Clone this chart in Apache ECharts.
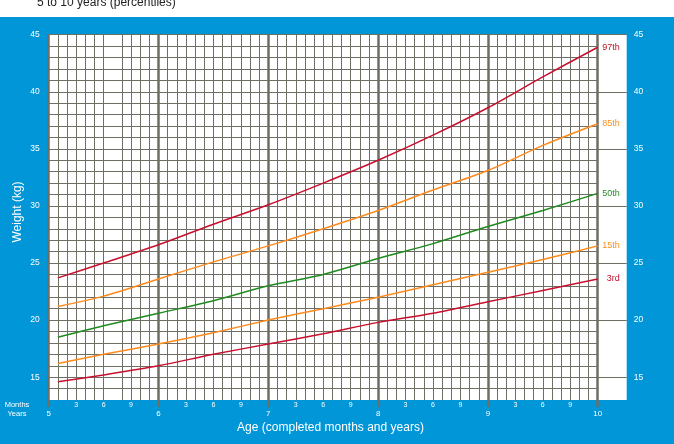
<!DOCTYPE html>
<html>
<head>
<meta charset="utf-8">
<script src="https://cdn.jsdelivr.net/npm/echarts@6/dist/echarts.min.js"></script>
<style>
html,body{margin:0;padding:0;background:#fff;}
#chart{width:674px;height:444px;}
</style>
</head>
<body>
<div id="chart"></div>
<script>
// ---- data ----
const months = [61, 66, 72, 78, 84, 90, 96, 102, 108, 114, 120];
const p97 = [23.7, 25.0, 26.6, 28.4, 30.1, 32.0, 34.0, 36.2, 38.6, 41.3, 43.9];
const p85 = [21.2, 22.1, 23.6, 25.1, 26.5, 28.0, 29.6, 31.4, 33.1, 35.3, 37.2];
const p50 = [18.5, 19.5, 20.6, 21.7, 23.0, 24.0, 25.4, 26.7, 28.2, 29.6, 31.1];
const p15 = [16.2, 17.0, 17.9, 18.9, 20.0, 21.0, 22.0, 23.1, 24.2, 25.3, 26.5];
const p3  = [14.6, 15.2, 16.0, 17.0, 17.9, 18.8, 19.8, 20.6, 21.6, 22.6, 23.6];
const seriesNames = ['97th', '85th', '50th', '15th', '3rd'];
const weightTicks = [15, 20, 25, 30, 35, 40, 45];
const monthCats = [];
for (let m = 60; m <= 120; m++) monthCats.push(String(m));
const missingMonthLine = 7; // grid line absent in reference at 5y7m

// ---- style ----
const FONT = 'Liberation Sans, Arial, sans-serif';
const GRIDC = '#6e6e65';
const lineColors = ['#c8102e', '#ff8a1c', '#1f8a1f', '#ff8a1c', '#c8102e'];
const labelColors = ['#b8141f', '#f7901e', '#2a8a2a', '#f7901e', '#c0102a'];
const L = 48.7, R = 76.3, T = 34.7, B = 44;

const allData = [p97, p85, p50, p15, p3];
const series = allData.map((arr, i) => ({
  type: 'line',
  name: seriesNames[i],
  xAxisIndex: 2, yAxisIndex: 2,
  data: months.map((m, k) => [m, arr[k]]),
  smooth: 0.3,
  showSymbol: false,
  lineStyle: { color: lineColors[i], width: 1.5 },
  endLabel: {
    show: true, formatter: '{a}', align: 'right', distance: 22,
    color: labelColors[i], fontSize: 9, fontFamily: FONT
  },
  z: 5
}));

const chart = echarts.init(document.getElementById('chart'), null, { renderer: 'canvas' });
chart.setOption({
  animation: false,
  backgroundColor: '#0096d8',
  grid: [
    { left: L, right: 47.3, top: T, bottom: B, show: true, backgroundColor: '#ffffff', borderWidth: 0 },
    { left: L, right: R, top: T, bottom: B },
    { left: L, right: R, top: T, bottom: B }
  ],
  xAxis: [
    { gridIndex: 0, type: 'value', min: 0, max: 1, show: false },
    {
      gridIndex: 1, type: 'category', data: monthCats, boundaryGap: false,
      axisLine: { show: false }, axisTick: { show: false },
      axisLabel: {
        interval: 0, margin: 2, color: '#fff', fontSize: 7, fontFamily: FONT,
        formatter: v => { const r = (+v) % 12; return (r === 3 || r === 6 || r === 9) ? String(r) : ''; }
      },
      splitLine: { show: true, interval: (i) => i !== missingMonthLine, lineStyle: { color: GRIDC, width: 1 } }
    },
    {
      gridIndex: 2, type: 'value', min: 60, max: 120, interval: 12,
      axisLine: { show: false },
      axisTick: { show: true, length: 7, lineStyle: { color: GRIDC, width: 2.5 } },
      axisLabel: { margin: 10, color: '#fff', fontSize: 8, fontFamily: FONT, formatter: v => String(v / 12) },
      splitLine: { show: true, lineStyle: { color: GRIDC, width: 2.5 } }
    }
  ],
  yAxis: [
    {
      gridIndex: 0, type: 'value', min: 13, max: 45, position: 'right',
      axisLine: { show: false },
      axisTick: { show: false, customValues: weightTicks },
      axisLabel: { customValues: weightTicks, margin: 7, color: '#fff', fontSize: 8.5, fontFamily: FONT },
      splitLine: { show: true, lineStyle: { color: GRIDC, width: 1 } }
    },
    {
      gridIndex: 1, type: 'value', min: 13, max: 45, interval: 1,
      axisLine: { show: false }, axisTick: { show: false },
      axisLabel: { margin: 9, color: '#fff', fontSize: 8.5, fontFamily: FONT, formatter: v => (v % 5 === 0 ? String(v) : '') },
      splitLine: { show: true, showMinLine: false, lineStyle: { color: GRIDC, width: 1 } }
    },
    { gridIndex: 2, type: 'value', min: 13, max: 45, show: false, splitLine: { show: false } }
  ],
  graphic: [
    { type: 'rect', left: 0, top: 0, shape: { width: 674, height: 17 }, style: { fill: '#ffffff' }, z: 10 },
    { type: 'text', left: 37, top: -3, style: { text: '5 to 10 years (percentiles)', fill: '#222', font: '12px ' + FONT }, z: 11 },
    { type: 'text', x: 17, y: 405, style: { text: 'Months', fill: '#fff', font: '7.5px ' + FONT, align: 'center', verticalAlign: 'middle' }, z: 11 },
    { type: 'text', x: 17, y: 414, style: { text: 'Years', fill: '#fff', font: '7.5px ' + FONT, align: 'center', verticalAlign: 'middle' }, z: 11 },
    { type: 'text', x: 330.5, y: 428, style: { text: 'Age (completed months and years)', fill: '#fff', font: '12px ' + FONT, align: 'center', verticalAlign: 'middle' }, z: 11 },
    { type: 'text', x: 18, y: 212, rotation: Math.PI / 2, style: { text: 'Weight (kg)', fill: '#fff', font: '12px ' + FONT, align: 'center', verticalAlign: 'middle' }, z: 11 }
  ],
  series: series
});
</script>
</body>
</html>
